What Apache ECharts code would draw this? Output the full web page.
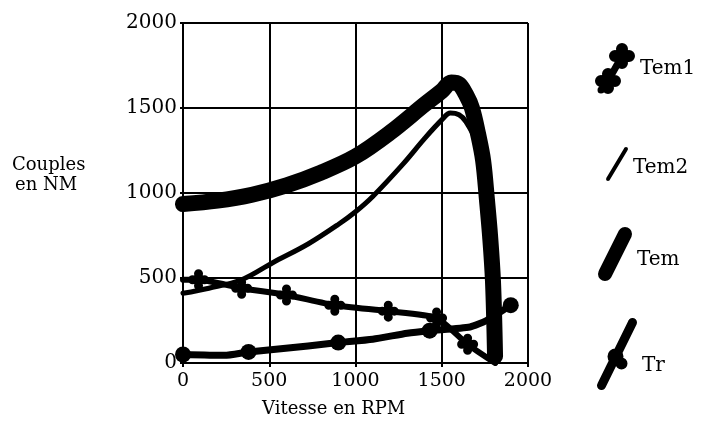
<!DOCTYPE html>
<html>
<head>
<meta charset="utf-8">
<script src="https://cdn.jsdelivr.net/npm/echarts@6/dist/echarts.min.js"></script>
<style>
  html, body { margin: 0; padding: 0; background: #fff; }
  #chart { width: 705px; height: 438px; }
</style>
</head>
<body>
<div id="chart"></div>
<script>
// Axis ticks (RPM and N·m)
const speedTicks = [0, 500, 1000, 1500, 2000];
const torqueTicks = [0, 500, 1000, 1500, 2000];

// Tem1: outer-cage torque
const tem1Speed  = [0, 90, 340, 600, 880, 1190, 1470, 1650, 1810];
const tem1Torque = [490, 490, 440, 400, 340, 305, 265, 110, 0];
const tem1Marked = [1, 2, 3, 4, 5, 6, 7];

// Tem2: inner-cage torque
const tem2Speed  = [0, 150, 340, 520, 725, 900, 1000, 1100, 1275, 1400, 1500, 1550, 1600, 1640, 1700, 1750, 1790, 1810];
const tem2Torque = [410, 440, 490, 590, 700, 815, 890, 980, 1170, 1320, 1430, 1470, 1460, 1420, 1300, 1060, 650, 0];

// Tem: total electromagnetic torque
const temSpeed  = [0, 200, 400, 600, 800, 1000, 1200, 1400, 1500, 1555, 1600, 1640, 1675, 1710, 1740, 1762, 1780, 1797, 1809];
const temTorque = [935, 955, 990, 1045, 1120, 1215, 1355, 1520, 1600, 1650, 1640, 1580, 1500, 1350, 1190, 960, 750, 480, 40];

// Tr: load torque
const trSpeed  = [0, 240, 380, 725, 900, 1100, 1300, 1430, 1664, 1760, 1900];
const trTorque = [50, 45, 65, 100, 120, 140, 175, 190, 212, 250, 340];
const trMarked = [0, 2, 4, 7, 10];

const pairs = (xs, ys) => xs.map((x, i) => [x, ys[i]]);

// small path builders for symbols
function circ(cx, cy, r) {
  return `M${cx - r} ${cy}A${r} ${r} 0 1 0 ${cx + r} ${cy}A${r} ${r} 0 1 0 ${cx - r} ${cy}Z`;
}
function plus(cx, cy, s, r) {
  return circ(cx, cy, r) + circ(cx - s, cy, r) + circ(cx + s, cy, r) + circ(cx, cy - s, r) + circ(cx, cy + s, r);
}
function stroke(x1, y1, x2, y2, w) {
  const dx = x2 - x1, dy = y2 - y1, len = Math.hypot(dx, dy);
  const nx = -dy / len * w / 2, ny = dx / len * w / 2;
  return `M${x1 + nx} ${y1 + ny}L${x2 + nx} ${y2 + ny}L${x2 - nx} ${y2 - ny}L${x1 - nx} ${y1 - ny}Z` +
    circ(x1, y1, w / 2) + circ(x2, y2, w / 2);
}

const crossSymbol = 'path://' + plus(0, 0, 6, 4.5);

// legend glyphs; a trailing move-to pads the glyph box downwards so the label sits lower
const iconTem1 = 'path://' + stroke(14, 38, 28, 13, 7) + stroke(14, 38, 7, 47, 7) + plus(28, 13, 7, 6) + plus(14, 38, 7, 6);
const iconTem2 = 'path://' + stroke(4, 33, 22, 3, 4) + 'M4 43';
const iconTem  = 'path://' + stroke(8, 48, 28, 8, 14) + 'M8 67';
const iconTr   = 'path://' + stroke(4, 68, 35, 5, 9) + circ(18, 39, 8) + circ(24, 46, 6) + 'M4 96.5';

const serif = 'DejaVu Serif';
const black = '#000';

function legendAt(name, icon, left, top, w, h) {
  return {
    data: [{ name, icon }],
    left, top, orient: 'vertical', padding: 0,
    itemWidth: w, itemHeight: h, itemGap: 0,
    itemStyle: { borderWidth: 0 },
    selectedMode: false,
    textStyle: { fontFamily: serif, fontSize: 20, color: black }
  };
}

const chart = echarts.init(document.getElementById('chart'), null, { renderer: 'canvas' });
chart.setOption({
  animation: false,
  backgroundColor: '#fff',
  grid: { left: 183, top: 23, right: 177, bottom: 75 },
  xAxis: {
    type: 'value',
    min: speedTicks[0], max: speedTicks[speedTicks.length - 1],
    interval: speedTicks[1] - speedTicks[0],
    axisLine: { show: true, onZero: false, lineStyle: { color: black, width: 2 } },
    axisTick: { show: true, length: 4, lineStyle: { color: black, width: 2 } },
    splitLine: { show: true, lineStyle: { color: black, width: 2 } },
    axisLabel: { fontFamily: serif, fontSize: 19, color: black, margin: 9, formatter: v => String(v) }
  },
  yAxis: {
    type: 'value',
    min: torqueTicks[0], max: torqueTicks[torqueTicks.length - 1],
    interval: torqueTicks[1] - torqueTicks[0],
    axisLine: { show: true, onZero: false, lineStyle: { color: black, width: 2 } },
    axisTick: { show: true, length: 3, lineStyle: { color: black, width: 2 } },
    splitLine: { show: true, lineStyle: { color: black, width: 2 } },
    axisLabel: { fontFamily: serif, fontSize: 20, color: black, margin: 6, formatter: v => String(v) }
  },
  legend: [
    legendAt('Tem1', iconTem1, 595, 43, 40, 54),
    legendAt('Tem2', iconTem2, 606, 147, 22, 42),
    legendAt('Tem', iconTem, 598, 227, 34, 66),
    legendAt('Tr', iconTr, 597, 318, 40, 96)
  ],
  graphic: [
    { type: 'text', left: 12, top: 156, style: { text: 'Couples', font: '18px "DejaVu Serif"', fill: black } },
    { type: 'text', left: 15, top: 176, style: { text: 'en NM', font: '18px "DejaVu Serif"', fill: black } },
    { type: 'text', left: 262, top: 400, style: { text: 'Vitesse en RPM', font: '18px "DejaVu Serif"', fill: black } }
  ],
  series: [
    {
      name: 'Tem', type: 'line', data: pairs(temSpeed, temTorque),
      smooth: 0.35, symbol: 'none', showSymbol: false, z: 3,
      itemStyle: { color: black },
      lineStyle: { color: black, width: 16, cap: 'round', join: 'round' }
    },
    {
      name: 'Tem2', type: 'line', data: pairs(tem2Speed, tem2Torque),
      smooth: 0.35, symbol: 'none', showSymbol: false, z: 3,
      itemStyle: { color: black },
      lineStyle: { color: black, width: 5, cap: 'round', join: 'round' }
    },
    {
      name: 'Tem1', type: 'line', data: pairs(tem1Speed, tem1Torque),
      smooth: 0.2, symbol: crossSymbol, showAllSymbol: true, z: 4,
      symbolSize: (v, p) => tem1Marked.includes(p.dataIndex) ? 21 : 0,
      itemStyle: { color: black, borderWidth: 0 },
      lineStyle: { color: black, width: 6, cap: 'round', join: 'round' }
    },
    {
      name: 'Tr', type: 'line', data: pairs(trSpeed, trTorque),
      smooth: 0.2, symbol: 'circle', showAllSymbol: true, z: 4,
      symbolSize: (v, p) => trMarked.includes(p.dataIndex) ? 16 : 0,
      itemStyle: { color: black, borderWidth: 0 },
      lineStyle: { color: black, width: 7, cap: 'round', join: 'round' }
    }
  ]
});
</script>
</body>
</html>
